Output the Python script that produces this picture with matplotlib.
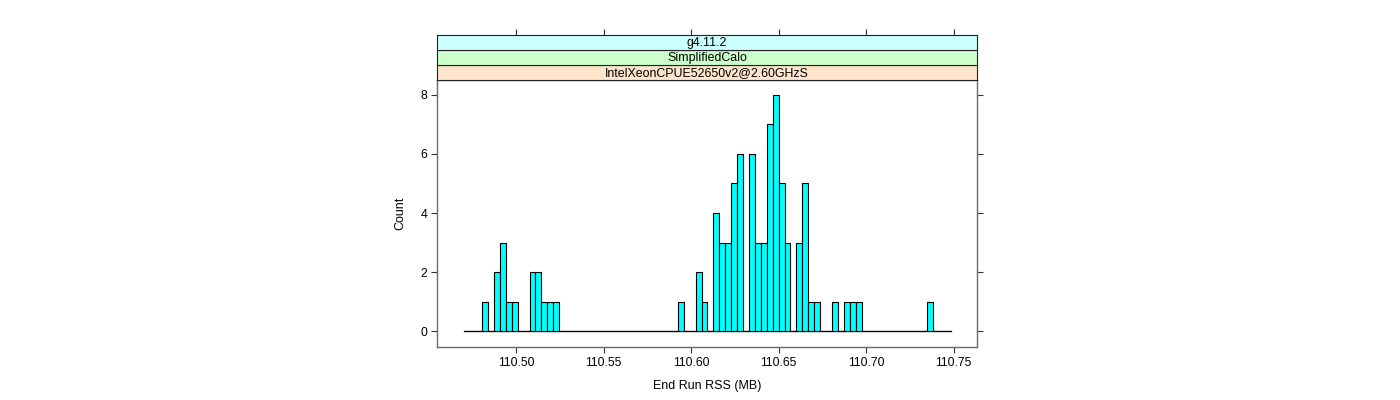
import matplotlib
matplotlib.use("Agg")
import matplotlib.pyplot as plt
import numpy as np

plt.rcParams['font.family'] = ['Liberation Sans', 'DejaVu Sans']

# histogram breaks (End Run RSS, MB) and counts per bin
break_lo = 110.4703
break_hi = 110.7482
counts = [0, 0, 0, 1, 0, 2, 3, 1, 1, 0,
          0, 2, 2, 1, 1, 1, 0, 0, 0, 0,
          0, 0, 0, 0, 0, 0, 0, 0, 0, 0,
          0, 0, 0, 0, 0, 0, 1, 0, 0, 2,
          1, 0, 4, 3, 3, 5, 6, 0, 6, 3,
          3, 7, 8, 5, 3, 0, 3, 5, 1, 1,
          0, 0, 1, 0, 1, 1, 1, 0, 0, 0,
          0, 0, 0, 0, 0, 0, 0, 0, 1, 0,
          0, 0]
strip_labels = ["g4.11.2", "SimplifiedCalo", "IntelXeonCPUE52650v2@2.60GHzS"]
strip_colors = ["#CCFFFF", "#CCFFCC", "#FFE5CC"]
x_ticks = [110.50, 110.55, 110.60, 110.65, 110.70, 110.75]
y_ticks = [0, 2, 4, 6, 8]

edges = np.linspace(break_lo, break_hi, len(counts) + 1)
xlim = (110.4547, 110.7633)
frame_col = "#6a6a6a"
tick_col = "#333333"

fig = plt.figure(figsize=(14, 4), dpi=100)
ax = fig.add_axes([437 / 1400, 1 - 347 / 400, 540 / 1400, 267 / 400])

# baseline under the empty bins
ax.plot([edges[0], edges[-1]], [0, 0], color='black', linewidth=0.9, zorder=1)
ax.bar(edges[:-1], counts, width=np.diff(edges), align='edge',
       color='#00FFFF', edgecolor='black', linewidth=0.8, zorder=2)

ax.set_xlim(*xlim)
ax.set_ylim(-0.53, 8.5)
ax.set_xticks(x_ticks)
ax.set_xticklabels(["%.2f" % v for v in x_ticks])
ax.set_yticks(y_ticks)
ax.tick_params(direction='out', length=4, width=0.8, color=tick_col,
               labelsize=8.8, right=True, pad=3)
for s in ax.spines.values():
    s.set_color(frame_col)
    s.set_linewidth(1.0)
ax.set_xlabel("End Run RSS (MB)", fontsize=9, labelpad=8)
ax.set_ylabel("Count", fontsize=9, labelpad=10)

# strips, bottom to top
tops = [80, 65, 50]
for i, (lab, col) in enumerate(zip(reversed(strip_labels), reversed(strip_colors))):
    sa = fig.add_axes([437 / 1400, 1 - tops[i] / 400, 540 / 1400, 15 / 400])
    sa.set_facecolor(col)
    sa.set_xlim(*xlim)
    sa.set_yticks([])
    for s in sa.spines.values():
        s.set_color('#222222')
        s.set_linewidth(0.8)
    sa.text(0.5, 0.45, lab, transform=sa.transAxes, ha='center', va='center',
            fontsize=8.9)
    if i == 2:
        sa.set_xticks(x_ticks)
        sa.tick_params(axis='x', direction='out', length=4, width=0.8,
                       color=tick_col, bottom=False, top=True,
                       labelbottom=False, labeltop=False)
    else:
        sa.set_xticks([])

fig.savefig("out.png", dpi=100)
